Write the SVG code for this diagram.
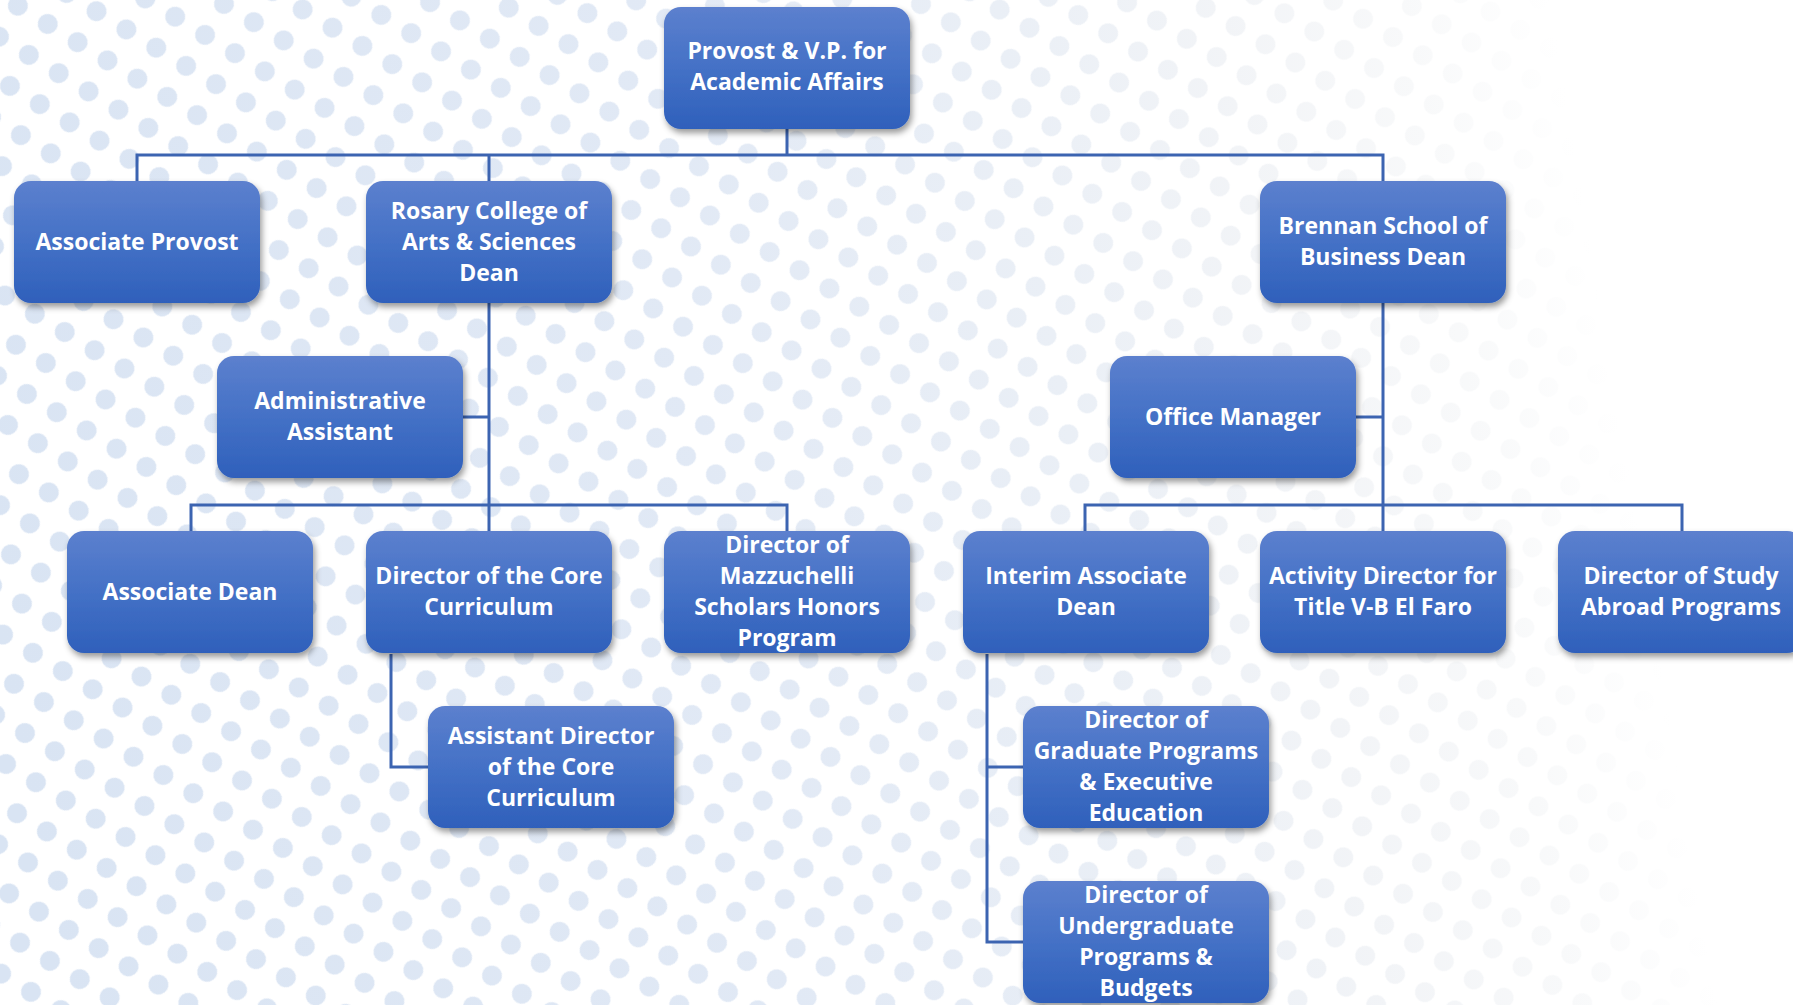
<svg xmlns="http://www.w3.org/2000/svg" width="1793" height="1005" viewBox="0 0 1793 1005">
<style>
.box{fill:url(#ng);filter:url(#sh)}
.t{font-family:"Open Sans",Lato,"Liberation Sans",sans-serif;font-weight:700;font-size:23px;fill:#ffffff;text-anchor:middle}
.c{fill:none;stroke:#3c64b1;stroke-width:3}
</style>
<defs>
<linearGradient id="ng" x1="0" y1="0" x2="0" y2="1">
<stop offset="0" stop-color="#5c80ce"/>
<stop offset="0.5" stop-color="#4471c6"/>
<stop offset="1" stop-color="#2f60bb"/>
</linearGradient>
<linearGradient id="bgg" gradientUnits="userSpaceOnUse" x1="0" y1="650" x2="1793" y2="350">
<stop offset="0" stop-color="#d9e4f3"/>
<stop offset="0.4" stop-color="#e1e9f5"/>
<stop offset="0.6" stop-color="#eaeff6"/>
<stop offset="0.72" stop-color="#f2f4f7"/>
<stop offset="0.82" stop-color="#f8f9fa"/>
<stop offset="0.9" stop-color="#ffffff"/>
</linearGradient>
<pattern id="dp" patternUnits="userSpaceOnUse" x="0.7" y="13.75" width="35" height="36.3" patternTransform="rotate(31.4)">
<circle cx="17.5" cy="18.15" r="10" fill="#ffffff"/>
</pattern>
<mask id="dm" maskUnits="userSpaceOnUse" x="0" y="0" width="1793" height="1005">
<rect width="1793" height="1005" fill="url(#dp)"/>
</mask>
<filter id="sh" x="-10%" y="-10%" width="125%" height="135%">
<feDropShadow dx="2" dy="4" stdDeviation="3" flood-color="#000000" flood-opacity="0.4"/>
</filter>
</defs>
<rect width="1793" height="1005" fill="#ffffff"/>
<rect width="1793" height="1005" fill="url(#bgg)" mask="url(#dm)"/>
<g id="connectors">
<path class="c" d="M787 129V155M137 181V155H1383V181M489 155V181"/>
<path class="c" d="M489 303V531M463 417H489M191 531V505H787V531"/>
<path class="c" d="M1383 303V531M1356 417H1383M1085 531V505H1682V531"/>
<path class="c" d="M391 654V767H428"/>
<path class="c" d="M987 654V942H1023M987 767H1023"/>
</g>
<g id="provost"><rect class="box" x="664" y="7" width="246" height="122" rx="17"/>
<text class="t" x="787" y="59">Provost &amp; V.P. for</text><text class="t" x="787" y="90">Academic Affairs</text></g>
<g id="associate-provost"><rect class="box" x="14" y="181" width="246" height="122" rx="17"/>
<text class="t" x="137" y="250">Associate Provost</text></g>
<g id="rosary-dean"><rect class="box" x="366" y="181" width="246" height="122" rx="17"/>
<text class="t" x="489" y="219">Rosary College of</text><text class="t" x="489" y="250">Arts &amp; Sciences</text><text class="t" x="489" y="281">Dean</text></g>
<g id="brennan-dean"><rect class="box" x="1260" y="181" width="246" height="122" rx="17"/>
<text class="t" x="1383" y="234">Brennan School of</text><text class="t" x="1383" y="265">Business Dean</text></g>
<g id="administrative-assistant"><rect class="box" x="217" y="356" width="246" height="122" rx="17"/>
<text class="t" x="340" y="409">Administrative</text><text class="t" x="340" y="440">Assistant</text></g>
<g id="office-manager"><rect class="box" x="1110" y="356" width="246" height="122" rx="17"/>
<text class="t" x="1233" y="425">Office Manager</text></g>
<g id="associate-dean"><rect class="box" x="67" y="531" width="246" height="122" rx="17"/>
<text class="t" x="190" y="600">Associate Dean</text></g>
<g id="core-director"><rect class="box" x="366" y="531" width="246" height="122" rx="17"/>
<text class="t" x="489" y="584">Director of the Core</text><text class="t" x="489" y="615">Curriculum</text></g>
<g id="mazzuchelli-director"><rect class="box" x="664" y="531" width="246" height="122" rx="17"/>
<text class="t" x="787" y="553">Director of</text><text class="t" x="787" y="584">Mazzuchelli</text><text class="t" x="787" y="615">Scholars Honors</text><text class="t" x="787" y="646">Program</text></g>
<g id="interim-associate-dean"><rect class="box" x="963" y="531" width="246" height="122" rx="17"/>
<text class="t" x="1086" y="584">Interim Associate</text><text class="t" x="1086" y="615">Dean</text></g>
<g id="activity-director"><rect class="box" x="1260" y="531" width="246" height="122" rx="17"/>
<text class="t" x="1383" y="584">Activity Director for</text><text class="t" x="1383" y="615">Title V-B El Faro</text></g>
<g id="study-abroad-director"><rect class="box" x="1558" y="531" width="246" height="122" rx="17"/>
<text class="t" x="1681" y="584">Director of Study</text><text class="t" x="1681" y="615">Abroad Programs</text></g>
<g id="assistant-core-director"><rect class="box" x="428" y="706" width="246" height="122" rx="17"/>
<text class="t" x="551" y="744">Assistant Director</text><text class="t" x="551" y="775">of the Core</text><text class="t" x="551" y="806">Curriculum</text></g>
<g id="graduate-director"><rect class="box" x="1023" y="706" width="246" height="122" rx="17"/>
<text class="t" x="1146" y="728">Director of</text><text class="t" x="1146" y="759">Graduate Programs</text><text class="t" x="1146" y="790">&amp; Executive</text><text class="t" x="1146" y="821">Education</text></g>
<g id="undergraduate-director"><rect class="box" x="1023" y="881" width="246" height="122" rx="17"/>
<text class="t" x="1146" y="903">Director of</text><text class="t" x="1146" y="934">Undergraduate</text><text class="t" x="1146" y="965">Programs &amp;</text><text class="t" x="1146" y="996">Budgets</text></g>
</svg>
